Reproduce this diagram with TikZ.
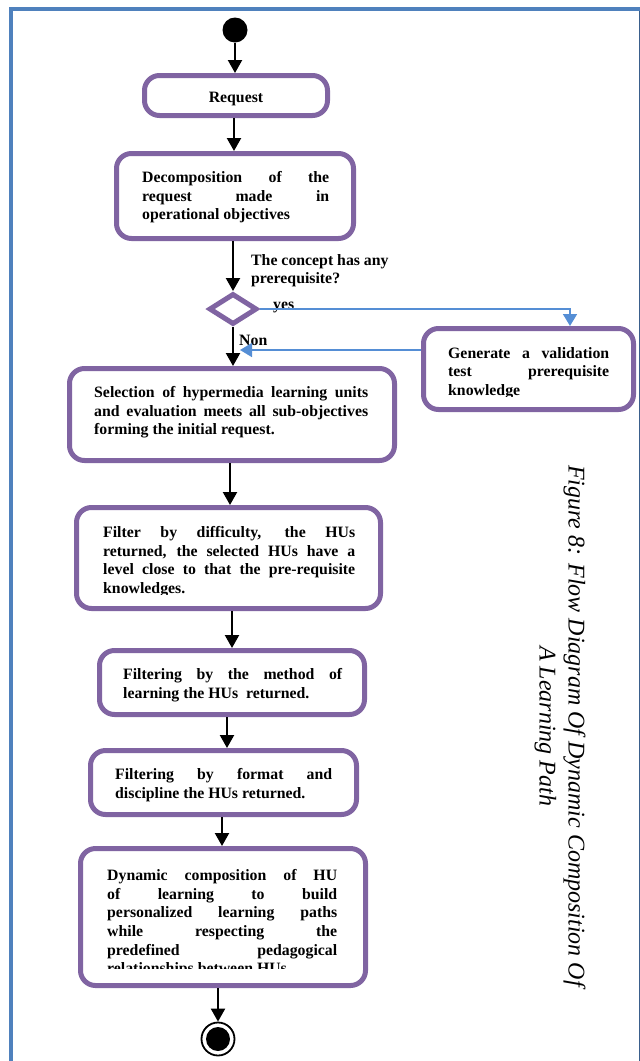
\documentclass[tikz,border=0pt]{standalone}
\usepackage{fontspec}
\setmainfont{Liberation Serif}
\usetikzlibrary{arrows.meta,shapes.geometric}
\definecolor{boxpurple}{HTML}{8064A2}
\definecolor{flowblue}{HTML}{558ED5}
\definecolor{frameblue}{HTML}{4F81BD}
\definecolor{edgeblue}{HTML}{3A5F8C}
\tikzset{
  stepbox/.style={draw=boxpurple, line width=5pt, rounded corners=15pt, fill=white, inner sep=0pt},
  boxtext/.style={anchor=north west, inner sep=0pt, align=justify,
    font=\bfseries\fontsize{15.8}{18.7}\selectfont},
  plainlabel/.style={inner sep=0pt, font=\bfseries\fontsize{15.8}{18.7}\selectfont},
  arr/.style={line width=2.2pt, -{Triangle[width=14pt,length=13pt]}},
  bluearr/.style={draw=flowblue, line width=1.6pt, -{Triangle[width=14pt,length=12pt]}},
}
\begin{document}
\begin{tikzpicture}[x=1pt,y=-1pt]
\useasboundingbox (0,0) rectangle (640,1061);

% frame
\draw[frameblue, line width=4pt] (640,9) -- (10.5,9) -- (10.5,1061);
\draw[edgeblue, line width=1pt] (639.5,11) -- (639.5,1061);

% start / end states
\node[circle, fill=black, minimum width=25pt, inner sep=0pt] (start) at (235,30) {};
\node[circle, draw=black, fill=white, line width=1.8pt, minimum size=33pt, inner sep=0pt] (stop) at (218,1039) {};
\node[circle, fill=black, minimum size=24pt, inner sep=0pt] (stopdot) at (stop) {};

% boxes
\node[stepbox, minimum width=183pt, minimum height=40pt] (req) at (236,95.5) {};
\node[stepbox, minimum width=237pt, minimum height=85pt] (dec) at (235,196) {};
\node[diamond, draw=boxpurple, line width=5pt, fill=white, minimum width=48pt, minimum height=31pt, inner sep=0pt] (dia) at (233,309) {};
\node[stepbox, minimum width=210pt, minimum height=81pt] (gen) at (528.5,369) {};
\node[stepbox, minimum width=325pt, minimum height=92pt] (sel) at (232,414.5) {};
\node[stepbox, minimum width=304pt, minimum height=101pt] (fil) at (228.5,558) {};
\node[stepbox, minimum width=265pt, minimum height=64pt] (met) at (232,682.5) {};
\node[stepbox, minimum width=266pt, minimum height=64pt] (fmt) at (223.5,782.5) {};
\node[stepbox, minimum width=285pt, minimum height=137pt] (dyn) at (223,917) {};

% box texts
\node[plainlabel, anchor=base] (reqt) at (236,102) {Request};
\node[boxtext, text width=187pt] (dect) at (142,171)
  {Decomposition of the\linebreak request made in\linebreak operational objectives};
\begin{scope}
  \clip (440,330) rectangle (620,396);
  \node[boxtext, text width=161pt] (gent) at (448,347)
    {Generate a validation\linebreak test prerequisite\linebreak knowledge};
\end{scope}
\node[boxtext, text width=274pt] (selt) at (94,386)
  {Selection of hypermedia learning units\linebreak and evaluation meets all sub-objectives\linebreak forming the initial request.};
\begin{scope}
  \clip (90,515) rectangle (370,594);
  \node[boxtext, text width=252pt] (filt) at (103,526)
    {Filter by difficulty, the HUs\linebreak returned, the selected HUs have a\linebreak level close to that the pre-requisite\linebreak knowledges.};
\end{scope}
\node[boxtext, text width=219pt] (mett) at (123,668)
  {Filtering by the method of\linebreak learning the HUs\ \ returned.};
\node[boxtext, text width=217pt] (fmtt) at (115,768)
  {Filtering by format and\linebreak discipline the HUs returned.};
\begin{scope}
  \clip (95,860) rectangle (350,968);
  \node[boxtext, text width=230pt] (dynt) at (107,869)
    {Dynamic composition of HU\linebreak of learning to build\linebreak personalized learning paths\linebreak while respecting the\linebreak predefined pedagogical\linebreak relationships between HUs.};
\end{scope}

% decision labels
\node[plainlabel, anchor=north west, align=left] (cond) at (251,254)
  {The concept has any\\prerequisite?};
\node[plainlabel, anchor=base west] (yes) at (273,309) {yes};
\node[plainlabel, anchor=base west] (non) at (239,345) {Non};

% connectors
\draw[arr] (start) -- (req.north -| start);
\draw[arr] (req.south -| 234,0) -- (dec.north -| 234,0);
\draw[arr] (dec.south -| dia.north) -- (dia.north);
\draw[arr] (dia.south) -- (sel.north -| dia.south);
\draw[arr] (sel.south -| 230,0) -- (fil.north -| 230,0);
\draw[arr] (fil.south -| 232,0) -- (met.north -| 232,0);
\draw[arr] (met.south -| 227,0) -- (fmt.north -| 227,0);
\draw[arr] (fmt.south -| 222,0) -- (dyn.north -| 222,0);
\draw[arr] (dyn.south -| stop.north) -- (stop.north);

\coordinate (bend) at (570,309);
\coordinate (join) at (240,350);
\draw[bluearr] (dia.east) -- (bend) -- (gen.north -| bend);
\draw[bluearr] (gen.west |- join) -- (join);

% caption
\node[rotate=-90, align=center, inner sep=0pt,
  font=\itshape\fontsize{24}{29}\selectfont] (caption) at (560,726)
  {Figure 8: Flow Diagram Of Dynamic Composition Of\\A Learning Path};
\end{tikzpicture}
\end{document}
